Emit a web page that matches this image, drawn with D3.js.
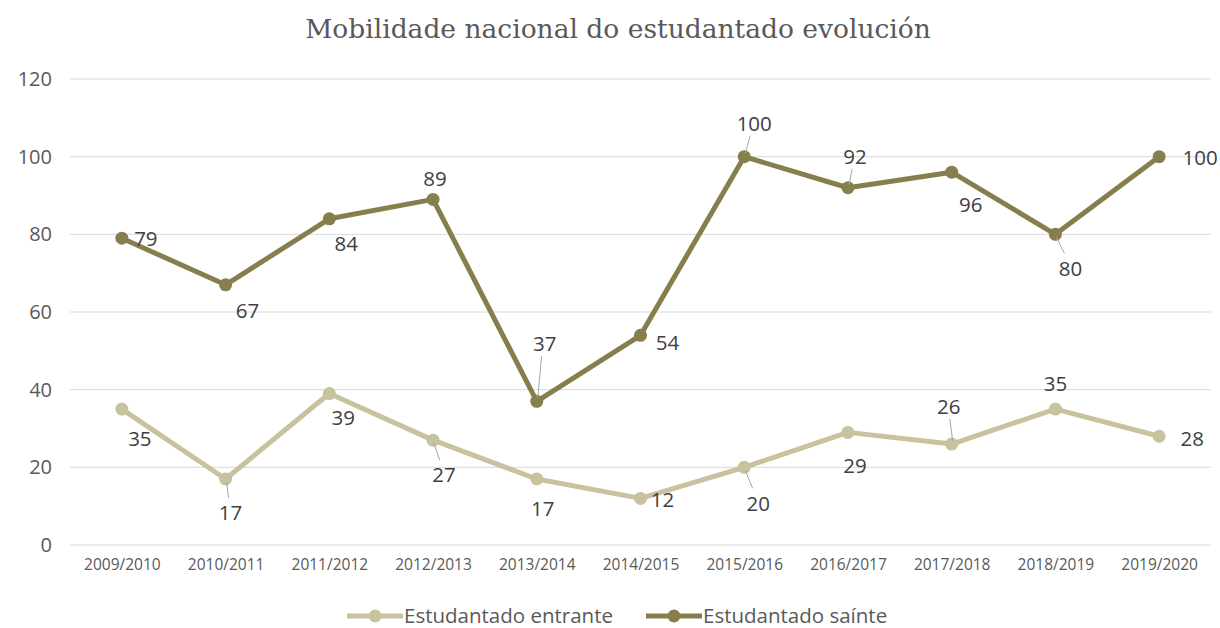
<!DOCTYPE html>
<html>
<head>
<meta charset="utf-8">
<script src="https://cdn.jsdelivr.net/npm/d3@7"></script>
<style>
  body { margin: 0; background: #fff; }
  svg { display: block; }
</style>
</head>
<body>
<svg id="chart" width="1220" height="628"></svg>
<script>
const years = ['2009/2010', '2010/2011', '2011/2012', '2012/2013', '2013/2014', '2014/2015',
               '2015/2016', '2016/2017', '2017/2018', '2018/2019', '2019/2020']
const entrante = [35, 17, 39, 27, 17, 12, 20, 29, 26, 35, 28]
const sainte = [79, 67, 84, 89, 37, 54, 100, 92, 96, 80, 100]
const yTicks = [0, 20, 40, 60, 80, 100, 120]

// where each data label sits relative to its point (dx, dy, leader line?)
const entranteLabelPos = [[18, 30], [5, 34, 1], [14, 24], [11, 35, 1], [6, 30], [22, 1],
                          [14, 36, 1], [7, 33], [-3, -37, 1], [0, -25], [33, 3]]
const sainteLabelPos = [[24, 1], [22, 26], [17, 25], [2, -21], [8, -57, 1], [27, 8],
                        [10, -33, 1], [7, -31, 1], [19, 33], [15, 34, 1], [41, 1]]

const svg = d3.select('#chart')
const margin = { left: 70, right: 9, top: 79, bottom: 83 }
const width = 1220, height = 628
const sans = '"Open Sans", "Noto Sans", sans-serif'

const x = d3.scalePoint()
            .domain(years)
            .range([margin.left, width - margin.right])
            .padding(0.5)
const y = d3.scaleLinear()
            .domain([0, 120])
            .range([height - margin.bottom, margin.top])

const colEntrante = '#c9c29f'
const colSainte = '#877e4d'

// title
svg.append('text')
   .attr('x', 618)
   .attr('y', 38)
   .attr('text-anchor', 'middle')
   .attr('font-family', '"DejaVu Serif", "Liberation Serif", serif')
   .attr('font-size', 26.5)
   .attr('fill', '#595959')
   .text('Mobilidade nacional do estudantado evolución')

// grid
svg.append('g')
   .selectAll('line')
   .data(yTicks)
   .enter()
   .append('line')
   .attr('x1', margin.left)
   .attr('x2', width - margin.right)
   .attr('y1', function(d) { return y(d) })
   .attr('y2', function(d) { return y(d) })
   .attr('stroke', '#d9d9d9')
   .attr('stroke-width', 1)

// y axis labels
const yAxis = svg.append('g')
   .attr('transform', 'translate(' + (margin.left - 18) + ',0)')
   .call(d3.axisLeft(y).tickValues(yTicks).tickSize(0).tickPadding(0))
yAxis.select('.domain').remove()
yAxis.selectAll('text')
     .attr('font-family', sans)
     .attr('font-size', 20)
     .attr('fill', '#595959')

// x axis labels
const xAxis = svg.append('g')
   .attr('transform', 'translate(0,' + y(0) + ')')
   .call(d3.axisBottom(x).tickSize(0).tickPadding(14))
xAxis.select('.domain').remove()
xAxis.selectAll('text')
     .attr('font-family', sans)
     .attr('font-size', 15.5)
     .attr('fill', '#595959')

function series(values, colour, labelPos) {
  const pts = values.map(function(v, i) { return { v: v, x: x(years[i]), y: y(v), pos: labelPos[i] } })
  const line = d3.line()
                 .x(function(d) { return d.x })
                 .y(function(d) { return d.y })
  svg.append('path')
     .datum(pts)
     .attr('d', line)
     .attr('fill', 'none')
     .attr('stroke', colour)
     .attr('stroke-width', 5)
     .attr('stroke-linejoin', 'round')
  svg.append('g')
     .selectAll('circle')
     .data(pts)
     .enter()
     .append('circle')
     .attr('cx', function(d) { return d.x })
     .attr('cy', function(d) { return d.y })
     .attr('r', 6.5)
     .attr('fill', colour)

  // leader lines
  svg.append('g')
     .selectAll('line')
     .data(pts.filter(function(d) { return d.pos[2] }))
     .enter()
     .append('line')
     .attr('x1', function(d) { return d.x + 1 })
     .attr('y1', function(d) { return d.y + (d.pos[1] > 0 ? 3 : -3) })
     .attr('x2', function(d) { return d.x + d.pos[0] * 0.6 })
     .attr('y2', function(d) { return d.y + d.pos[1] + (d.pos[1] > 0 ? -15 : 12) })
     .attr('stroke', '#a6a6a6')
     .attr('stroke-width', 1)

  svg.append('g')
     .selectAll('text')
     .data(pts)
     .enter()
     .append('text')
     .attr('x', function(d) { return d.x + d.pos[0] })
     .attr('y', function(d) { return d.y + d.pos[1] })
     .attr('dy', '0.35em')
     .attr('text-anchor', 'middle')
     .attr('font-family', sans)
     .attr('font-size', 20.5)
     .attr('fill', '#404040')
     .text(function(d) { return d.v })
}

series(entrante, colEntrante, entranteLabelPos)
series(sainte, colSainte, sainteLabelPos)

// legend
const legendItems = [
  { name: 'Estudantado entrante', colour: colEntrante, x: 347 },
  { name: 'Estudantado saínte', colour: colSainte, x: 646 }
]
const lg = svg.append('g')
              .selectAll('g')
              .data(legendItems)
              .enter()
              .append('g')
              .attr('transform', function(d) { return 'translate(' + d.x + ',616)' })
lg.append('line')
  .attr('x1', 0).attr('x2', 56)
  .attr('stroke', function(d) { return d.colour })
  .attr('stroke-width', 5)
lg.append('circle')
  .attr('cx', 28).attr('r', 6.5)
  .attr('fill', function(d) { return d.colour })
lg.append('text')
  .attr('x', 57)
  .attr('dy', '0.35em')
  .attr('font-family', sans)
  .attr('font-size', 20.5)
  .attr('fill', '#595959')
  .text(function(d) { return d.name })
</script>
</body>
</html>
